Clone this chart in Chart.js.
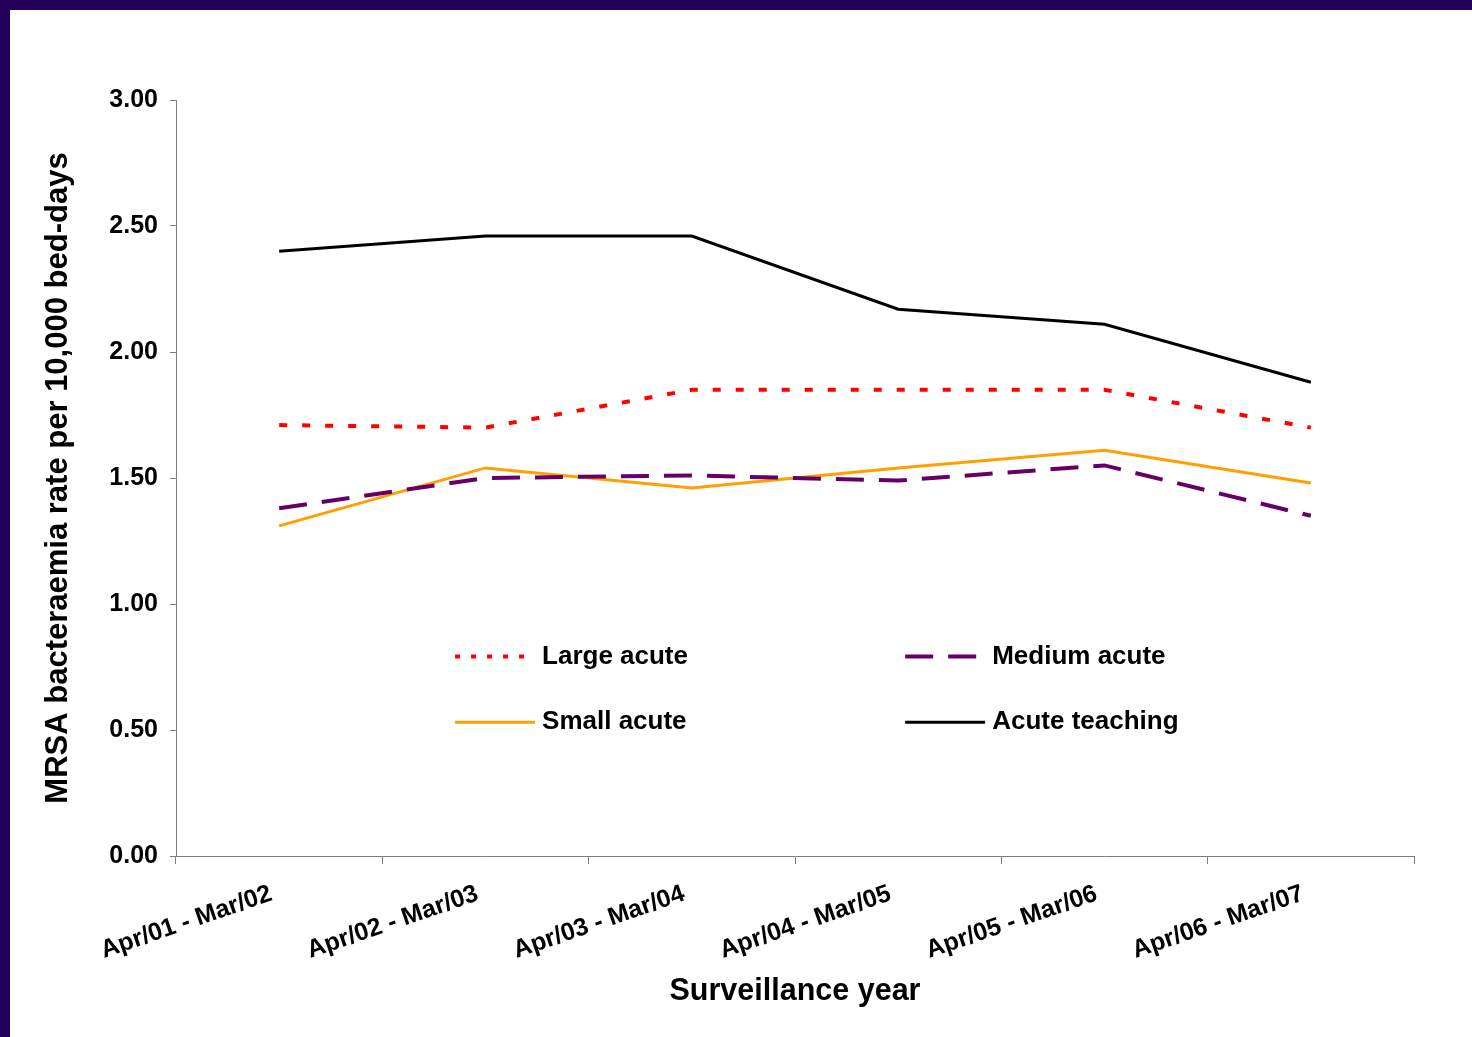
<!DOCTYPE html>
<html>
<head>
<meta charset="utf-8">
<script src="https://cdn.jsdelivr.net/npm/chart.js@4"></script>
<style>
  html, body { margin: 0; padding: 0; background: #fff; }
  #frame {
    width: 1462px; height: 1027px;
    border-top: 10px solid #22005A;
    border-left: 10px solid #22005A;
    background: #fff;
  }
  canvas { display: block; }
</style>
</head>
<body>
<div id="frame"><canvas id="rateChart" width="1462" height="1027"></canvas></div>
<script>
// surveillance years (x categories)
const years = ['Apr/01 - Mar/02', 'Apr/02 - Mar/03', 'Apr/03 - Mar/04',
               'Apr/04 - Mar/05', 'Apr/05 - Mar/06', 'Apr/06 - Mar/07'];

// rates per 10,000 bed-days
const largeAcute    = [1.71, 1.70, 1.85, 1.85, 1.85, 1.70];
const mediumAcute   = [1.38, 1.50, 1.51, 1.49, 1.55, 1.35];
const smallAcute    = [1.31, 1.54, 1.46, 1.54, 1.61, 1.48];
const acuteTeaching = [2.40, 2.46, 2.46, 2.17, 2.11, 1.88];

const yMin = 0, yMax = 3, yStep = 0.5;

const FONT = "'Liberation Sans', Arial, sans-serif";
const axisGrey = '#7f7f7f';

// legend drawn inside the plot area, 2 x 2
const insideLegend = {
  id: 'insideLegend',
  afterDraw(chart) {
    const { ctx, chartArea: a } = chart;
    const w = a.right - a.left, h = a.bottom - a.top;
    const cols = [a.left + 0.2254 * w, a.left + 0.589 * w];
    const rows = [a.top + 0.736 * h, a.top + 0.823 * h];
    const sampleLen = 80;
    chart.data.datasets.forEach((ds, i) => {
      const x = cols[i % 2], y = rows[Math.floor(i / 2)];
      ctx.save();
      ctx.strokeStyle = ds.borderColor;
      ctx.lineWidth = ds.borderWidth;
      ctx.setLineDash(ds.legendDash || []);
      ctx.beginPath();
      ctx.moveTo(x, y);
      ctx.lineTo(x + sampleLen, y);
      ctx.stroke();
      ctx.setLineDash([]);
      ctx.fillStyle = '#000';
      ctx.font = 'bold 26px ' + FONT;
      ctx.textBaseline = 'middle';
      ctx.textAlign = 'left';
      ctx.fillText(ds.label, x + sampleLen + 7, y);
      ctx.restore();
    });
  }
};

const ctx = document.getElementById('rateChart').getContext('2d');
const rateChart = new Chart(ctx, {
  type: 'line',
  data: {
    labels: years,
    datasets: [
      {
        label: 'Large acute',
        data: largeAcute,
        borderColor: '#FF0000',
        borderWidth: 4,
        borderDash: [8, 15],
        legendDash: [5, 11],
      },
      {
        label: 'Medium acute',
        data: mediumAcute,
        borderColor: '#660066',
        borderWidth: 4,
        borderDash: [28, 15],
        legendDash: [28, 15],
      },
      {
        label: 'Small acute',
        data: smallAcute,
        borderColor: '#FF9F00',
        borderWidth: 3,
      },
      {
        label: 'Acute teaching',
        data: acuteTeaching,
        borderColor: '#000000',
        borderWidth: 3,
      },
    ],
  },
  options: {
    responsive: false,
    animation: false,
    events: [],
    elements: {
      point: { radius: 0 },
      line: { tension: 0, fill: false, borderCapStyle: 'butt', borderJoinStyle: 'miter' },
    },
    layout: { padding: { left: 0, top: 90, right: 58, bottom: 20 } },
    plugins: {
      legend: { display: false },
      tooltip: { enabled: false },
    },
    scales: {
      x: {
        offset: true,
        grid: { offset: true, drawOnChartArea: false, tickLength: 8, color: axisGrey },
        border: { color: axisGrey, width: 1 },
        ticks: {
          minRotation: 19,
          maxRotation: 19,
          autoSkip: false,
          padding: 15,
          labelOffset: -8,
          color: '#000',
          font: { family: FONT, size: 25, weight: 'bold' },
        },
        title: {
          display: true,
          text: 'Surveillance year',
          color: '#000',
          font: { family: FONT, size: 30.5, weight: 'bold' },
          padding: { top: 0, bottom: 7 },
        },
        afterFit(scale) { scale.height = 161; },
      },
      y: {
        min: yMin,
        max: yMax,
        grid: { drawOnChartArea: false, tickLength: 6, color: axisGrey },
        border: { color: axisGrey, width: 1 },
        ticks: {
          stepSize: yStep,
          padding: 12,
          color: '#000',
          font: { family: FONT, size: 25, weight: 'bold' },
          callback: v => v.toFixed(2),
        },
        title: {
          display: true,
          text: 'MRSA bacteraemia rate per 10,000 bed-days',
          color: '#000',
          font: { family: FONT, size: 31, weight: 'bold' },
          padding: { top: 30, bottom: 0 },
        },
        afterFit(scale) { scale.width = 166; },
      },
    },
  },
  plugins: [insideLegend],
});
</script>
</body>
</html>
